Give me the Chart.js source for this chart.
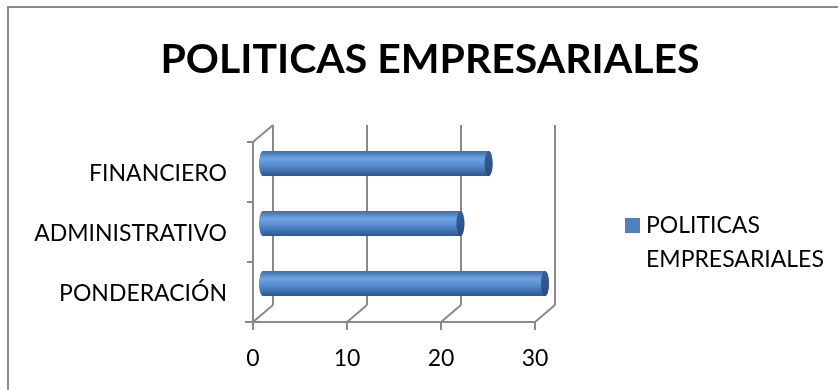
<!DOCTYPE html>
<html>
<head>
<meta charset="utf-8">
<script src="https://cdn.jsdelivr.net/npm/chart.js@4"></script>
<style>
  body { margin: 0; background: #fff; }
  #wrap { position: relative; width: 838px; height: 390px; }
</style>
</head>
<body>
<div id="wrap"><canvas id="politicasChart" width="838" height="390"></canvas></div>
<script>
const categories = ['FINANCIERO', 'ADMINISTRATIVO', 'PONDERACIÓN'];
const politicas = [24, 21, 30];
const xTicks = [0, 10, 20, 30];
const seriesName = 'POLITICAS EMPRESARIALES';

const FONT = "Lato, 'Open Sans', sans-serif";
const GRID = '#8a8a8a';
// oblique depth of the 3d box (back wall offset)
const DX = 20, DY = -17;

function line(ctx, x1, y1, x2, y2) {
    ctx.beginPath();
    ctx.moveTo(x1, y1);
    ctx.lineTo(x2, y2);
    ctx.stroke();
}

function drawCylinder(ctx, x0, x1, yc, h) {
    const rx = 4, ry = h / 2;
    const top = yc - ry, bot = yc + ry;
    const g = ctx.createLinearGradient(0, top, 0, bot);
    g.addColorStop(0, '#3d6dad');
    g.addColorStop(0.3, '#6ea2e2');
    g.addColorStop(0.55, '#5a8fd2');
    g.addColorStop(1, '#2b5893');
    ctx.beginPath();
    ctx.moveTo(x1, top);
    ctx.lineTo(x0, top);
    ctx.ellipse(x0, yc, rx, ry, 0, -Math.PI / 2, Math.PI / 2, true);
    ctx.lineTo(x1, bot);
    ctx.ellipse(x1, yc, rx, ry, 0, Math.PI / 2, -Math.PI / 2, true);
    ctx.closePath();
    ctx.fillStyle = g;
    ctx.fill();

    // end cap
    const c = ctx.createLinearGradient(0, top, 0, bot);
    c.addColorStop(0, '#355f96');
    c.addColorStop(1, '#274d80');
    ctx.beginPath();
    ctx.ellipse(x1, yc, rx, ry, 0, 0, Math.PI * 2);
    ctx.fillStyle = c;
    ctx.fill();
}

const boxPlugin = {
    id: 'box3d',
    beforeDraw(chart) {
        const ctx = chart.ctx;
        ctx.save();
        ctx.strokeStyle = GRID;
        ctx.lineWidth = 2;
        ctx.beginPath();
        ctx.moveTo(8, 390);
        ctx.lineTo(8, 7);
        ctx.lineTo(838, 7);
        ctx.stroke();
        ctx.restore();
    },
    beforeDatasetsDraw(chart) {
        const ctx = chart.ctx;
        const xs = chart.scales.x, ys = chart.scales.y;
        const top = ys.top, bottom = ys.bottom, left = xs.left;
        ctx.save();
        ctx.strokeStyle = GRID;
        ctx.lineWidth = 2;
        // back wall verticals and floor diagonals
        xTicks.forEach(v => {
            const px = xs.getPixelForValue(v);
            line(ctx, px + DX, top + DY, px + DX, bottom + DY);
            line(ctx, px, bottom, px + DX, bottom + DY);
            line(ctx, px, bottom, px, bottom + 8);
        });
        // side wall
        line(ctx, left, top, left, bottom);
        line(ctx, left, top, left + DX, top + DY);
        line(ctx, left - 8, bottom, xs.right, bottom);
        const step = (bottom - top) / categories.length;
        for (let i = 0; i <= categories.length; i++) {
            line(ctx, left - 6, top + i * step, left, top + i * step);
        }
        ctx.restore();
    },
    beforeDatasetDraw() {
        return false;
    },
    afterDatasetsDraw(chart) {
        const ctx = chart.ctx;
        const meta = chart.getDatasetMeta(0);
        ctx.save();
        meta.data.forEach(bar => {
            drawCylinder(ctx, bar.base + DX / 2, bar.x + DX / 2, bar.y + DY / 2, bar.height);
        });
        ctx.restore();
    },
    afterDraw(chart) {
        // legend
        const ctx = chart.ctx;
        const ds = chart.data.datasets[0];
        ctx.save();
        ctx.fillStyle = ds.backgroundColor;
        ctx.fillRect(625, 218, 15, 15);
        ctx.fillStyle = '#000';
        ctx.font = '23px ' + FONT;
        ctx.textBaseline = 'middle';
        const words = ds.label.split(' ');
        ctx.fillText(words[0], 646, 226);
        ctx.fillText(words[1], 646, 260);
        ctx.restore();
    }
};

const ctx = document.getElementById('politicasChart').getContext('2d');
const politicasChart = new Chart(ctx, {
    type: 'bar',
    data: {
        labels: categories,
        datasets: [{
            label: seriesName,
            data: politicas,
            backgroundColor: '#4f81bd',
            barThickness: 25
        }]
    },
    options: {
        indexAxis: 'y',
        responsive: false,
        animation: false,
        layout: { padding: { left: 22 } },
        plugins: {
            legend: { display: false },
            tooltip: { enabled: false },
            title: {
                display: true,
                text: seriesName,
                color: '#000',
                font: { family: FONT, size: 41, weight: 'bold' },
                padding: { top: 35, bottom: 57.8 }
            }
        },
        scales: {
            x: {
                min: 0,
                max: 30,
                grid: { display: false, drawTicks: false },
                border: { display: false },
                ticks: {
                    stepSize: 10,
                    padding: 23,
                    color: '#000',
                    font: { family: FONT, size: 23 }
                },
                afterFit: s => { s.height = 68; }
            },
            y: {
                grid: { display: false, drawTicks: false },
                border: { display: false },
                ticks: {
                    padding: 26,
                    labelOffset: 2,
                    color: '#000',
                    font: { family: FONT, size: 23 }
                },
                afterFit: s => { s.width = 231; }
            },
            side: {
                position: 'right',
                type: 'linear',
                grid: { display: false, drawTicks: false },
                border: { display: false },
                ticks: { display: false },
                afterFit: s => { s.width = 303; }
            }
        }
    },
    plugins: [boxPlugin]
});
</script>
</body>
</html>
